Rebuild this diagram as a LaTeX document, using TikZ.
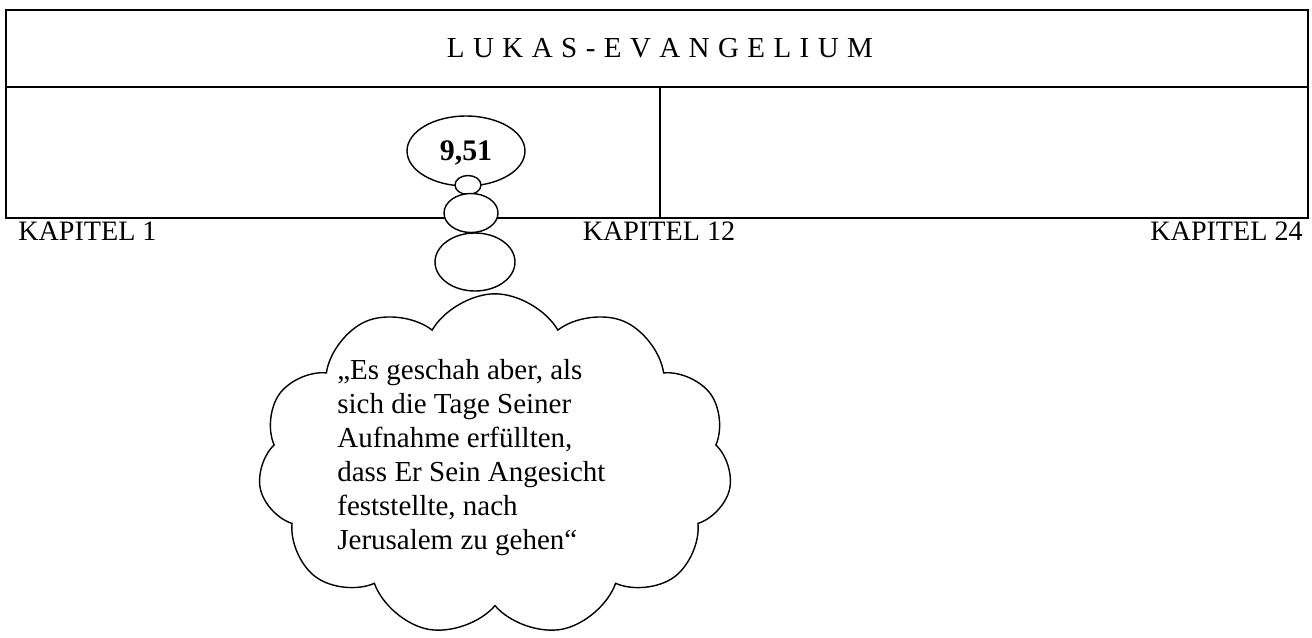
\documentclass[tikz,border=0pt]{standalone}
\usepackage{fontspec}
\setmainfont{Liberation Serif}
\usetikzlibrary{shapes}
\newcommand{\bubble}[5]{\node[bubble, minimum width=#4cm, minimum height=#5cm] (#1) at (#2,#3) {};}
\newcommand{\kapitel}[5]{\node[kap, anchor=#4] (#1) at (#2,#3) {KAPITEL #5};}
\tikzset{
  bubble/.style={ellipse, draw, fill=white, line width=0.8pt, inner sep=0pt},
  kap/.style={font=\fontsize{16}{19}\selectfont, inner sep=0pt},
  frame/.style={line width=1.1pt}
}

\begin{document}
\begin{tikzpicture}[x=0.02cm, y=-0.02cm]
    \useasboundingbox (0,0) rectangle (1312,637);
    % Kasten mit Titelzeile
    \coordinate (tl) at (6,10); \coordinate (br) at (1308,218);
    \coordinate (rl) at (6,87); \coordinate (rr) at (1308,87);
    \coordinate (dt) at (660,87); \coordinate (db) at (660,218);
    \draw[frame] (tl) rectangle (br);
    \draw[frame] (rl) -- (rr);
    \draw[frame] (dt) -- (db);
    \node[kap, font=\fontsize{16.5}{19}\selectfont] (titel) at (660,48) {\spaceskip=4.8pt\relax L U K A S - E V A N G E L I U M};
    \kapitel{k1}{18}{240}{base west}{1}
    \kapitel{k12}{659}{240}{base}{12}
    \kapitel{k24}{1303}{240}{base east}{24}

    % Gedankenblase
    \node[bubble, minimum width=2.36cm, minimum height=1.4cm, text depth=0pt, font=\fontsize{17}{19}\selectfont\bfseries] (vers) at (466,151) {9,51};
    \bubble{b1}{468}{185}{0.52}{0.38}
    \bubble{b2}{471}{213}{1.08}{0.78}
    \bubble{b3}{475}{262}{1.6}{1.16}
    \node[cloud, draw, fill=white, line width=0.8pt, cloud puffs=11, cloud puff arc=120, aspect=1.4,
          minimum width=9.48cm, minimum height=6.85cm] (wolke) at (495,465) {};
    \node[anchor=north west, inner sep=0pt, align=left, font=\fontsize{16.5}{19.4}\selectfont] (zitat) at (337,359)
        {„Es geschah aber, als\\sich die Tage Seiner\\Aufnahme erfüllten,\\dass Er Sein Angesicht\\feststellte, nach\\Jerusalem zu gehen“};
\end{tikzpicture}
\end{document}
